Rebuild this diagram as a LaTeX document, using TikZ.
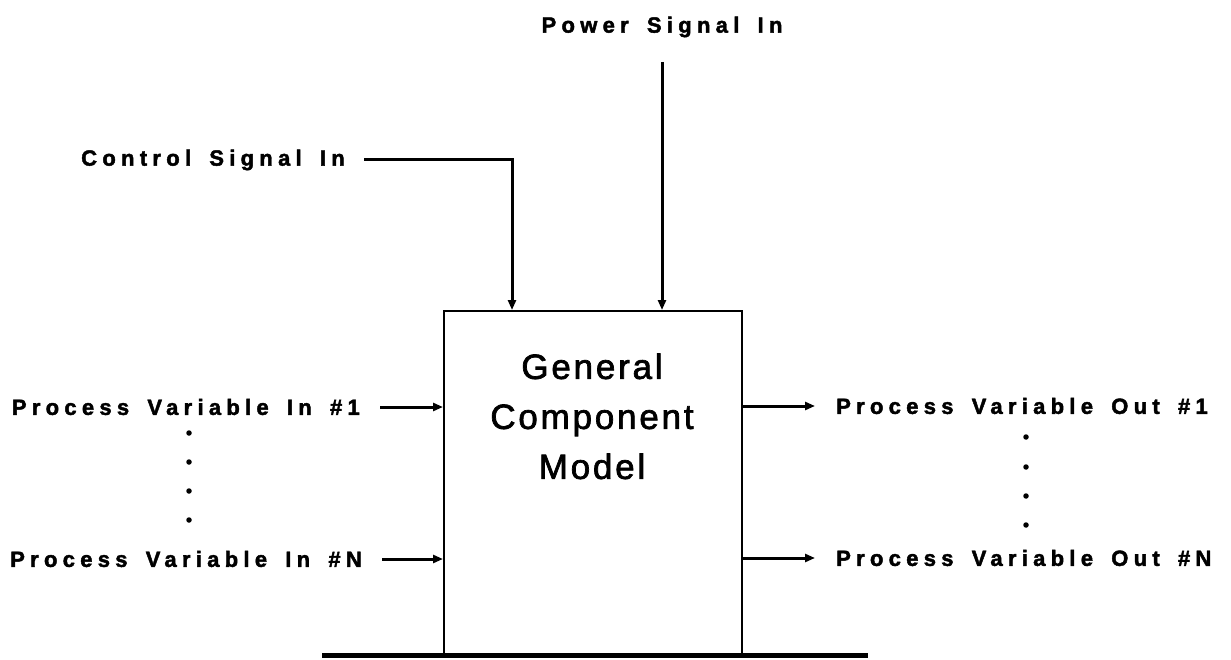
\documentclass[tikz,border=0pt]{standalone}
\usepackage{fontspec}
\setmainfont{Liberation Sans}
\newfontfamily\lblfont[LetterSpace=24,WordSpace=1.6,FakeBold=2]{Liberation Sans Bold}
\newfontfamily\boxfont[LetterSpace=8,FakeBold=2]{Liberation Sans}
\usetikzlibrary{arrows.meta}
\begin{document}
\begin{tikzpicture}[x=1pt,y=-1pt,
  lbl/.style={font=\lblfont\fontsize{22}{26}\selectfont, inner sep=0pt},
  sig/.style={line width=3pt, -{Triangle[length=10pt,width=8pt]}},
  dotmark/.style={circle, fill=black, inner sep=0pt, minimum size=5.5pt}]
\useasboundingbox (0,0) rectangle (1231,660);
% main box
\node[draw, line width=1.5pt, minimum width=298pt, minimum height=345pt, anchor=north west, inner sep=0pt] (box) at (443,310) {};
\node[font=\boxfont\fontsize{35}{50}\selectfont, align=center, anchor=north] (title) at (592,350) {General\\Component\\Model};
% ground
\coordinate (gl) at (322,655);
\coordinate (gr) at (868,655);
\draw[line width=5pt] (gl) -- (gr);
% power
\node[lbl] (pow) at (662,27) {Power Signal In};
\coordinate (powstart) at (662,62);
\coordinate (powend) at (662,310);
\draw[sig] (powstart) -- (powend);
% control
\node[lbl, anchor=east] (ctl) at (345,160) {Control Signal In};
\coordinate (ctlstart) at (364,160);
\coordinate (ctlend) at (512,310);
\draw[sig] (ctlstart) -| (ctlend);
% inputs
\node[lbl, anchor=east] (in1) at (360,407) {Process Variable In \#1};
\coordinate (in1s) at (380,407);
\coordinate (in1e) at (443,407);
\draw[sig] (in1s) -- (in1e);
\node[lbl, anchor=east] (inN) at (362,559) {Process Variable In \#N};
\coordinate (inNs) at (382,559);
\coordinate (inNe) at (443,559);
\draw[sig] (inNs) -- (inNe);
% outputs
\coordinate (out1s) at (741,406);
\coordinate (out1e) at (815,406);
\draw[sig] (out1s) -- (out1e);
\node[lbl, anchor=west] (out1) at (836,406) {Process Variable Out \#1};
\coordinate (outNs) at (741,558);
\coordinate (outNe) at (815,558);
\draw[sig] (outNs) -- (outNe);
\node[lbl, anchor=west] (outN) at (836,558) {Process Variable Out \#N};
% dots
\foreach \y/\n in {433/1,462/2,491/3,520/4} \node[dotmark] (ld\n) at (189,\y) {};
\foreach \y/\n in {437/1,467/2,496/3,525/4} \node[dotmark] (rd\n) at (1026,\y) {};
\end{tikzpicture}
\end{document}
